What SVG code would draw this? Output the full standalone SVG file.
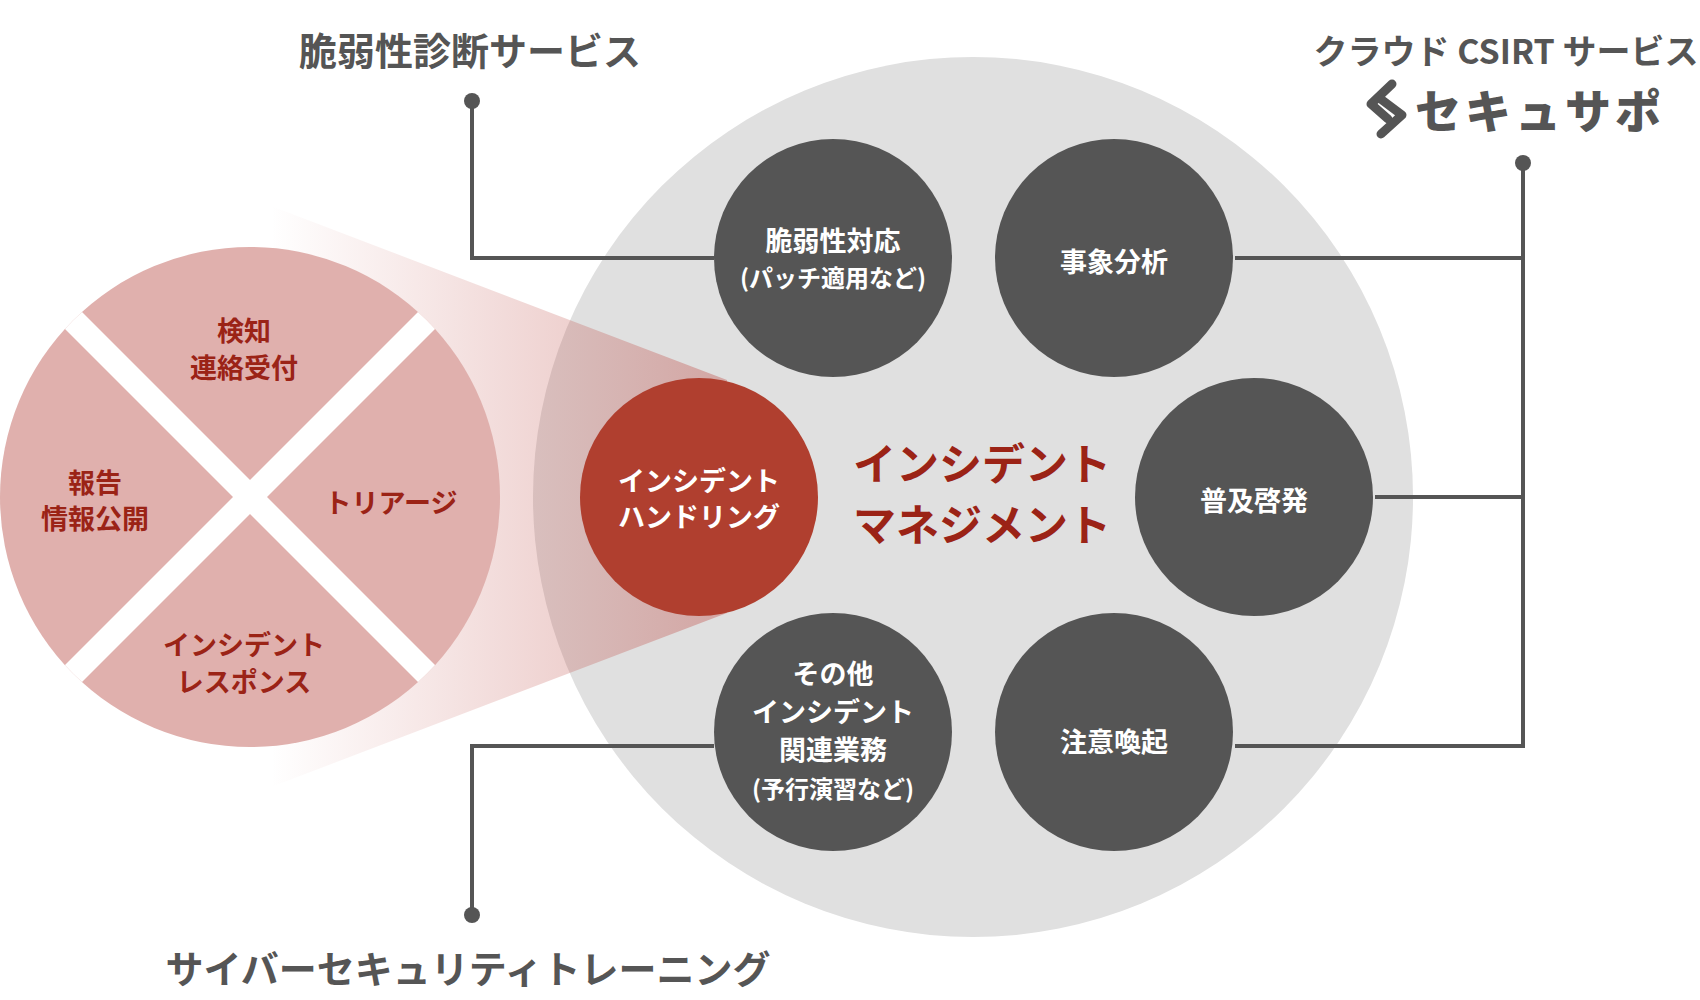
<svg xmlns="http://www.w3.org/2000/svg" width="1700" height="1000" viewBox="0 0 1700 1000">
<style>
text{font-family:"Noto Sans CJK JP","Noto Sans",sans-serif;font-weight:700;text-anchor:middle;dominant-baseline:central}
.w{fill:#fff;font-size:27px}
.r{fill:#9b2316;font-size:27px}
.h{fill:#555;font-weight:700;font-size:38px}
.dark{fill:#555}
.ln{stroke:#555;stroke-width:4;fill:none}
.m{fill:#9b2316;font-size:43px}
</style>
<defs>
<linearGradient id="cone" x1="271" y1="0" x2="727" y2="0" gradientUnits="userSpaceOnUse">
<stop offset="0" stop-color="#c0504a" stop-opacity="0"/>
<stop offset="1" stop-color="#c0504a" stop-opacity="0.4"/>
</linearGradient>
<clipPath id="pc"><circle cx="250" cy="497" r="250"/></clipPath>
</defs>
<rect width="1700" height="1000" fill="#fff"/>
<circle cx="973" cy="497" r="440" fill="#e0e0e0"/>
<g id="connectors">
<polyline class="ln" points="472,101 472,258 714,258"/>
<circle cx="472" cy="101" r="8" class="dark"/>
<polyline class="ln" points="472,915 472,746 714,746"/>
<circle cx="472" cy="915" r="8" class="dark"/>
<polyline class="ln" points="1523,163 1523,746 1235,746"/>
<circle cx="1523" cy="163" r="8" class="dark"/>
<line class="ln" x1="1235" y1="258" x2="1523" y2="258"/>
<line class="ln" x1="1375" y1="497" x2="1523" y2="497"/>
</g>
<polygon points="271,206 727,380 727,613 271,787" fill="url(#cone)"/>
<g id="pie">
<circle cx="250" cy="497" r="250" fill="#e0b0ad"/>
<g clip-path="url(#pc)">
<line x1="0" y1="247" x2="500" y2="747" stroke="#fff" stroke-width="24"/>
<line x1="500" y1="247" x2="0" y2="747" stroke="#fff" stroke-width="24"/>
</g>
<text class="r" x="244" y="329">検知</text><text class="r" x="244" y="366">連絡受付</text>
<text class="r" x="95" y="481">報告</text><text class="r" x="95" y="517">情報公開</text>
<text class="r" x="391" y="501">トリアージ</text>
<text class="r" x="244" y="643">インシデント</text><text class="r" x="244" y="680">レスポンス</text>
</g>
<g id="handling"><circle cx="699" cy="497" r="119" fill="#b03f2f"/>
<text class="w" x="699" y="479">インシデント</text><text class="w" x="699" y="515">ハンドリング</text></g>
<g id="mgmt"><text class="m" x="982" y="461">インシデント</text><text class="m" x="982" y="522">マネジメント</text></g>
<g id="n1"><circle cx="833" cy="258" r="119" class="dark"/><text class="w" x="833" y="239">脆弱性対応</text><text class="w" x="833" y="276" style="font-size:24px">(パッチ適用など)</text></g>
<g id="n2"><circle cx="1114" cy="258" r="119" class="dark"/><text class="w" x="1114" y="260">事象分析</text></g>
<g id="n3"><circle cx="1254" cy="497" r="119" class="dark"/><text class="w" x="1254" y="499">普及啓発</text></g>
<g id="n4"><circle cx="833" cy="732" r="119" class="dark"/><text class="w" x="833" y="672">その他</text><text class="w" x="833" y="710">インシデント</text><text class="w" x="833" y="748">関連業務</text><text class="w" x="833" y="787" style="font-size:24px">(予行演習など)</text></g>
<g id="n5"><circle cx="1114" cy="732" r="119" class="dark"/><text class="w" x="1114" y="740">注意喚起</text></g>
<g id="labels">
<text class="h" x="470" y="48">脆弱性診断サービス</text>
<text class="h" x="1506" y="49" style="font-size:34px">クラウド CSIRT サービス</text>
<g stroke="#555" stroke-width="9" fill="none" stroke-linejoin="round" stroke-linecap="round">
<polyline points="1392,84 1371,104 1388,119"/>
<polyline points="1382,100 1402,115 1381,134"/>
</g>
<text x="1540" y="108" style="fill:#555;font-size:46px;font-weight:900;letter-spacing:4px">セキュサポ</text>
<text class="h" x="468" y="966">サイバーセキュリティトレーニング</text>
</g>
</svg>
